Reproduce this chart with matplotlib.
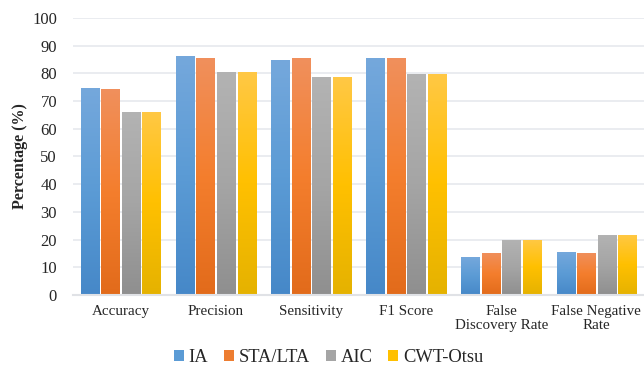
import matplotlib
matplotlib.use("Agg")
import matplotlib.pyplot as plt
import numpy as np
from matplotlib.colors import LinearSegmentedColormap
from matplotlib.patches import Patch

categories = ["Accuracy", "Precision", "Sensitivity", "F1 Score",
              "False\nDiscovery Rate", "False Negative\nRate"]
series_names = ["IA", "STA/LTA", "AIC", "CWT-Otsu"]
ia = [74.7, 86.3, 84.8, 85.6, 13.7, 15.5]
sta_lta = [74.4, 85.6, 85.6, 85.6, 15.2, 15.2]
aic = [66.1, 80.5, 78.7, 79.8, 19.9, 21.7]
cwt_otsu = [66.1, 80.5, 78.7, 79.8, 19.9, 21.7]
yticks = list(range(0, 101, 10))

# (bottom, middle, top) gradient stops and a flat colour for the legend keys
gradients = [
    ("#4688c8", "#5b9bd5", "#75a8dc"),
    ("#e26b1b", "#f47e2d", "#f0905d"),
    ("#8f8f8f", "#a5a5a5", "#b3b3b3"),
    ("#e5b200", "#ffc000", "#ffc845"),
]
flat = ["#5b9bd5", "#ed7d31", "#a5a5a5", "#ffc000"]

plt.rcParams["font.family"] = ["Liberation Serif", "DejaVu Serif"]

fig = plt.figure(figsize=(6.44, 3.68), dpi=100)
ax = fig.add_axes([0.1134, 0.1984, 0.8866, 0.7527])

x = np.arange(len(categories))
width = 0.19
step = 0.216
values = [ia, sta_lta, aic, cwt_otsu]

grad = np.linspace(0, 1, 256).reshape(-1, 1)
for i, vals in enumerate(values):
    offs = (i - 1.5) * step
    bars = ax.bar(x + offs, vals, width, color="none", edgecolor="none", zorder=3)
    cmap = LinearSegmentedColormap.from_list(f"g{i}", list(gradients[i]))
    for b in bars:
        x0, y0 = b.get_x(), b.get_y()
        w, h = b.get_width(), b.get_height()
        im = ax.imshow(grad, extent=(x0, x0 + w, y0, y0 + h), origin="lower",
                       cmap=cmap, aspect="auto", zorder=3, interpolation="bilinear")
        im.set_clip_path(b)

ax.set_xlim(-0.5, len(categories) - 0.5)
ax.set_ylim(0, 100)
ax.set_yticks(yticks)
ax.set_xticks(x)
ax.set_xticklabels(categories, fontsize=10.8, color="#262626", linespacing=1.15)
ax.tick_params(axis="y", labelsize=12, colors="#262626", length=0, pad=11.5)
ax.tick_params(axis="x", length=0, pad=7)
ax.yaxis.grid(True, color="#e4e7ec", linewidth=1.1, zorder=0)
ax.set_axisbelow(True)
for s in ["top", "right", "left"]:
    ax.spines[s].set_visible(False)
ax.spines["bottom"].set_color("#e0e2e6")
ax.spines["bottom"].set_linewidth(1.5)
ax.spines["bottom"].set_zorder(4)

ax.set_ylabel("Percentage (%)", fontsize=11.5, fontweight="bold", color="#262626", labelpad=3)

handles = [Patch(facecolor=c, edgecolor="none") for c in flat]
fig.legend(handles, series_names, loc="lower center", bbox_to_anchor=(0.51, -0.04),
           ncol=4, frameon=False, fontsize=13.3, handlelength=0.55, handleheight=0.55,
           handletextpad=0.25, columnspacing=0.85, labelcolor="#262626")

fig.savefig("out.png", dpi=100)
